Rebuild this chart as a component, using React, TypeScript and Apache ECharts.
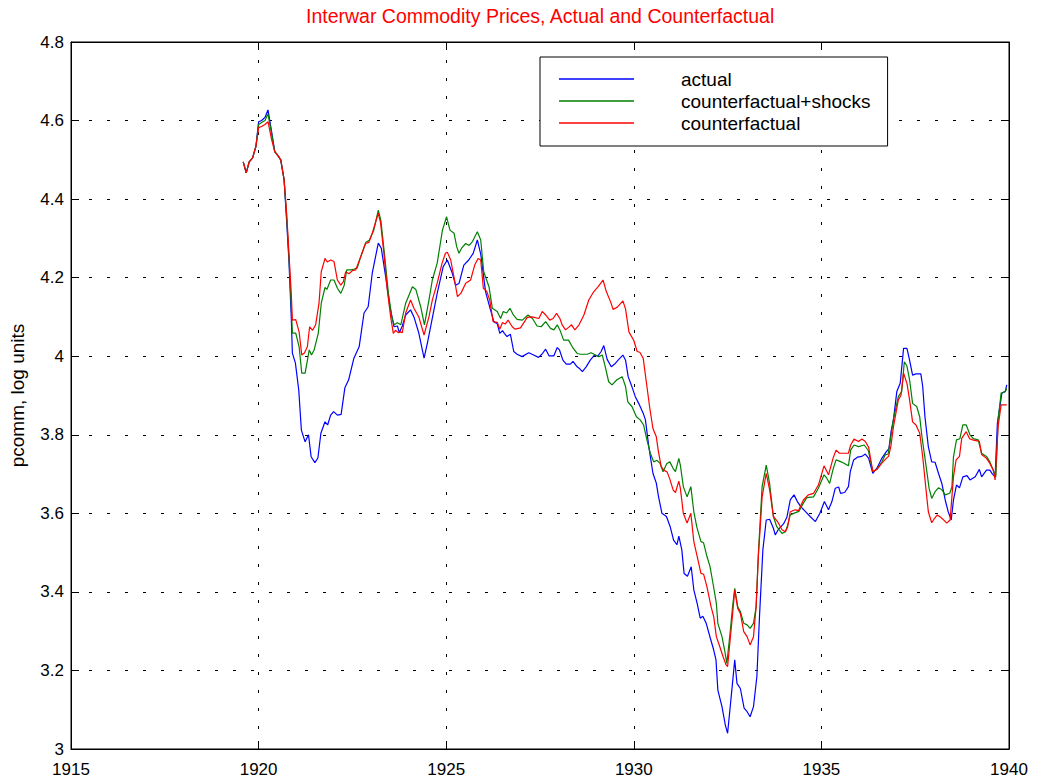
import React, { useEffect, useRef } from "react";
import * as echarts from "echarts";

const titleText = "Interwar Commodity Prices, Actual and Counterfactual";
const yAxisName = "pcomm, log units";
const seriesNames = ["actual", "counterfactual+shocks", "counterfactual"];
const seriesColors = ["#0000ff", "#008000", "#ff0000"];
const xTicks = [1915, 1920, 1925, 1930, 1935, 1940];
const yTicks = [3, 3.2, 3.4, 3.6, 3.8, 4, 4.2, 4.4, 4.6, 4.8];

const actualData: [number, number][] = [
  [1919.59, 4.495], [1919.67, 4.467], [1919.75, 4.495], [1919.84, 4.505], [1919.93, 4.535],
  [1920.0, 4.597], [1920.08, 4.6], [1920.17, 4.608], [1920.25, 4.627], [1920.35, 4.57],
  [1920.43, 4.521], [1920.52, 4.51], [1920.59, 4.5], [1920.68, 4.449], [1920.75, 4.34],
  [1920.81, 4.24], [1920.87, 4.1], [1920.9, 4.008], [1920.98, 3.983], [1921.07, 3.914],
  [1921.14, 3.812], [1921.24, 3.782], [1921.33, 3.8], [1921.4, 3.744], [1921.5, 3.729],
  [1921.58, 3.741], [1921.66, 3.804], [1921.77, 3.833], [1921.84, 3.825], [1921.92, 3.85],
  [1922.0, 3.859], [1922.1, 3.85], [1922.2, 3.852], [1922.3, 3.92], [1922.4, 3.94],
  [1922.54, 3.995], [1922.68, 4.024], [1922.81, 4.11], [1922.92, 4.126], [1923.03, 4.212],
  [1923.19, 4.288], [1923.27, 4.275], [1923.39, 4.2], [1923.5, 4.126], [1923.61, 4.075],
  [1923.7, 4.077], [1923.75, 4.06], [1923.83, 4.077], [1923.92, 4.105], [1924.05, 4.118],
  [1924.14, 4.1], [1924.27, 4.059], [1924.41, 3.995], [1924.5, 4.034], [1924.63, 4.097],
  [1924.76, 4.16], [1924.92, 4.228], [1925.03, 4.245], [1925.16, 4.212], [1925.25, 4.181],
  [1925.34, 4.185], [1925.47, 4.232], [1925.6, 4.245], [1925.72, 4.262], [1925.83, 4.296],
  [1925.92, 4.26], [1926.05, 4.164], [1926.18, 4.118], [1926.27, 4.088], [1926.36, 4.083],
  [1926.43, 4.058], [1926.5, 4.065], [1926.55, 4.058], [1926.62, 4.05], [1926.71, 4.056],
  [1926.8, 4.012], [1926.89, 4.005], [1927.02, 3.999], [1927.2, 4.009], [1927.33, 4.003],
  [1927.46, 3.997], [1927.55, 4.005], [1927.65, 4.018], [1927.74, 4.001], [1927.87, 4.001],
  [1927.96, 4.022], [1928.02, 4.016], [1928.11, 3.99], [1928.2, 3.98], [1928.31, 3.98],
  [1928.38, 3.987], [1928.49, 3.973], [1928.56, 3.968], [1928.63, 3.961], [1928.73, 3.973],
  [1928.84, 3.99], [1928.95, 4.003], [1929.04, 4.0], [1929.13, 4.012], [1929.2, 4.027],
  [1929.29, 3.992], [1929.4, 3.973], [1929.49, 3.98], [1929.6, 3.992], [1929.71, 4.003],
  [1929.78, 3.99], [1929.85, 3.948], [1929.94, 3.925], [1930.04, 3.897], [1930.13, 3.88],
  [1930.25, 3.855], [1930.31, 3.838], [1930.4, 3.77], [1930.51, 3.702], [1930.6, 3.677],
  [1930.66, 3.642], [1930.75, 3.6], [1930.87, 3.592], [1930.97, 3.566], [1931.06, 3.532],
  [1931.15, 3.52], [1931.2, 3.542], [1931.28, 3.507], [1931.34, 3.447], [1931.43, 3.44],
  [1931.53, 3.464], [1931.6, 3.405], [1931.69, 3.37], [1931.77, 3.333], [1931.84, 3.338],
  [1931.93, 3.32], [1932.04, 3.282], [1932.13, 3.252], [1932.19, 3.227], [1932.24, 3.15],
  [1932.35, 3.108], [1932.44, 3.061], [1932.5, 3.04], [1932.57, 3.108], [1932.63, 3.167],
  [1932.69, 3.227], [1932.75, 3.167], [1932.84, 3.154], [1932.94, 3.104], [1933.02, 3.095],
  [1933.1, 3.082], [1933.19, 3.108], [1933.28, 3.184], [1933.35, 3.337], [1933.44, 3.507],
  [1933.53, 3.583], [1933.62, 3.585], [1933.72, 3.562], [1933.77, 3.545], [1933.86, 3.56],
  [1933.99, 3.573], [1934.08, 3.59], [1934.17, 3.634], [1934.27, 3.647], [1934.36, 3.63],
  [1934.45, 3.617], [1934.57, 3.605], [1934.7, 3.592], [1934.84, 3.579], [1934.96, 3.6],
  [1935.08, 3.63], [1935.19, 3.609], [1935.28, 3.63], [1935.37, 3.664], [1935.46, 3.667],
  [1935.51, 3.651], [1935.62, 3.653], [1935.72, 3.668], [1935.77, 3.706], [1935.86, 3.736],
  [1935.96, 3.743], [1936.08, 3.745], [1936.17, 3.751], [1936.26, 3.74], [1936.37, 3.702],
  [1936.48, 3.715], [1936.61, 3.74], [1936.73, 3.757], [1936.8, 3.765], [1936.86, 3.81],
  [1936.92, 3.838], [1937.01, 3.91], [1937.1, 3.931], [1937.19, 4.02], [1937.28, 4.02],
  [1937.35, 3.99], [1937.43, 3.952], [1937.52, 3.955], [1937.65, 3.955], [1937.7, 3.923],
  [1937.76, 3.846], [1937.85, 3.77], [1937.94, 3.731], [1938.03, 3.73], [1938.12, 3.702],
  [1938.21, 3.676], [1938.3, 3.634], [1938.38, 3.604], [1938.46, 3.583], [1938.52, 3.634],
  [1938.6, 3.672], [1938.68, 3.665], [1938.77, 3.693], [1938.88, 3.696], [1938.96, 3.685],
  [1939.1, 3.693], [1939.21, 3.712], [1939.27, 3.693], [1939.4, 3.71], [1939.49, 3.71],
  [1939.56, 3.7], [1939.63, 3.693], [1939.69, 3.829], [1939.81, 3.906], [1939.9, 3.91],
  [1939.94, 3.927],
];

const shocksData: [number, number][] = [
  [1919.59, 4.495], [1919.67, 4.467], [1919.75, 4.495], [1919.84, 4.505], [1919.93, 4.535],
  [1920.0, 4.59], [1920.08, 4.595], [1920.17, 4.6], [1920.25, 4.617], [1920.35, 4.565],
  [1920.43, 4.521], [1920.52, 4.51], [1920.59, 4.5], [1920.68, 4.449], [1920.75, 4.35],
  [1920.81, 4.25], [1920.87, 4.13], [1920.9, 4.059], [1920.99, 4.059], [1921.08, 4.024],
  [1921.15, 3.957], [1921.24, 3.957], [1921.35, 4.016], [1921.41, 4.003], [1921.48, 4.016],
  [1921.59, 4.058], [1921.67, 4.135], [1921.77, 4.175], [1921.82, 4.17], [1921.92, 4.194],
  [1922.01, 4.194], [1922.1, 4.173], [1922.19, 4.16], [1922.28, 4.18], [1922.35, 4.22],
  [1922.46, 4.22], [1922.55, 4.222], [1922.63, 4.225], [1922.72, 4.253], [1922.86, 4.29],
  [1922.95, 4.295], [1923.07, 4.321], [1923.19, 4.372], [1923.26, 4.345], [1923.36, 4.255],
  [1923.46, 4.16], [1923.55, 4.1], [1923.61, 4.08], [1923.7, 4.085], [1923.79, 4.08],
  [1923.92, 4.135], [1924.1, 4.177], [1924.19, 4.17], [1924.32, 4.126], [1924.42, 4.08],
  [1924.54, 4.143], [1924.63, 4.194], [1924.76, 4.237], [1924.9, 4.321], [1925.01, 4.355],
  [1925.1, 4.321], [1925.21, 4.313], [1925.28, 4.279], [1925.34, 4.262], [1925.41, 4.275],
  [1925.52, 4.287], [1925.61, 4.282], [1925.7, 4.292], [1925.83, 4.317], [1925.92, 4.296],
  [1926.0, 4.215], [1926.14, 4.177], [1926.23, 4.122], [1926.36, 4.114], [1926.45, 4.096],
  [1926.52, 4.114], [1926.61, 4.11], [1926.7, 4.122], [1926.79, 4.105], [1926.89, 4.094],
  [1927.03, 4.092], [1927.18, 4.105], [1927.3, 4.096], [1927.42, 4.077], [1927.53, 4.075],
  [1927.65, 4.088], [1927.78, 4.071], [1927.87, 4.067], [1927.96, 4.08], [1928.03, 4.067],
  [1928.13, 4.041], [1928.26, 4.041], [1928.36, 4.024], [1928.49, 4.007], [1928.58, 4.005],
  [1928.76, 4.005], [1928.86, 4.009], [1928.98, 4.003], [1929.07, 3.999], [1929.16, 4.003],
  [1929.24, 3.973], [1929.33, 3.935], [1929.42, 3.927], [1929.55, 3.94], [1929.69, 3.948],
  [1929.78, 3.923], [1929.84, 3.884], [1929.95, 3.872], [1930.07, 3.846], [1930.17, 3.838],
  [1930.26, 3.825], [1930.35, 3.787], [1930.44, 3.753], [1930.53, 3.731], [1930.62, 3.735],
  [1930.7, 3.727], [1930.78, 3.706], [1930.88, 3.727], [1930.96, 3.731], [1931.05, 3.714],
  [1931.11, 3.706], [1931.2, 3.74], [1931.24, 3.723], [1931.32, 3.668], [1931.42, 3.642],
  [1931.52, 3.668], [1931.6, 3.604], [1931.68, 3.565], [1931.79, 3.528], [1931.86, 3.525],
  [1931.95, 3.49], [1932.03, 3.465], [1932.11, 3.422], [1932.2, 3.371], [1932.24, 3.32],
  [1932.35, 3.286], [1932.42, 3.252], [1932.48, 3.218], [1932.57, 3.299], [1932.63, 3.36],
  [1932.69, 3.409], [1932.77, 3.362], [1932.84, 3.35], [1932.93, 3.32], [1933.02, 3.316],
  [1933.1, 3.307], [1933.19, 3.32], [1933.26, 3.362], [1933.32, 3.498], [1933.42, 3.668],
  [1933.53, 3.723], [1933.62, 3.676], [1933.72, 3.592], [1933.81, 3.566], [1933.95, 3.549],
  [1934.04, 3.553], [1934.1, 3.57], [1934.17, 3.596], [1934.26, 3.6], [1934.4, 3.605],
  [1934.52, 3.626], [1934.61, 3.64], [1934.79, 3.642], [1934.92, 3.664], [1935.07, 3.698],
  [1935.14, 3.69], [1935.22, 3.676], [1935.31, 3.712], [1935.39, 3.736], [1935.48, 3.733],
  [1935.59, 3.728], [1935.72, 3.721], [1935.78, 3.761], [1935.87, 3.774], [1935.99, 3.77],
  [1936.14, 3.774], [1936.25, 3.76], [1936.37, 3.706], [1936.48, 3.712], [1936.61, 3.73],
  [1936.7, 3.749], [1936.78, 3.751], [1936.85, 3.795], [1936.92, 3.84], [1937.05, 3.897],
  [1937.14, 3.91], [1937.21, 3.986], [1937.28, 3.975], [1937.35, 3.94], [1937.43, 3.88],
  [1937.54, 3.872], [1937.62, 3.846], [1937.68, 3.795], [1937.78, 3.727], [1937.87, 3.664],
  [1937.94, 3.638], [1938.03, 3.655], [1938.12, 3.665], [1938.21, 3.66], [1938.3, 3.647],
  [1938.42, 3.651], [1938.48, 3.668], [1938.52, 3.744], [1938.6, 3.787], [1938.69, 3.79],
  [1938.77, 3.825], [1938.86, 3.825], [1938.96, 3.8], [1939.05, 3.79], [1939.18, 3.787],
  [1939.27, 3.753], [1939.4, 3.745], [1939.49, 3.731], [1939.58, 3.71], [1939.65, 3.693],
  [1939.71, 3.838], [1939.79, 3.906], [1939.9, 3.91], [1939.94, 3.918],
];

const cfData: [number, number][] = [
  [1919.59, 4.495], [1919.67, 4.467], [1919.75, 4.495], [1919.84, 4.505], [1919.93, 4.535],
  [1920.0, 4.582], [1920.08, 4.585], [1920.17, 4.59], [1920.25, 4.597], [1920.35, 4.55],
  [1920.43, 4.521], [1920.52, 4.51], [1920.59, 4.5], [1920.68, 4.449], [1920.75, 4.36],
  [1920.81, 4.26], [1920.87, 4.16], [1920.9, 4.092], [1920.99, 4.093], [1921.08, 4.062],
  [1921.15, 4.003], [1921.22, 4.008], [1921.3, 4.024], [1921.36, 4.075], [1921.44, 4.066],
  [1921.52, 4.08], [1921.61, 4.135], [1921.67, 4.215], [1921.77, 4.249], [1921.83, 4.24],
  [1921.92, 4.245], [1922.01, 4.241], [1922.1, 4.194], [1922.19, 4.181], [1922.26, 4.19],
  [1922.32, 4.215], [1922.41, 4.21], [1922.5, 4.218], [1922.59, 4.22], [1922.72, 4.253],
  [1922.85, 4.287], [1922.94, 4.29], [1923.03, 4.313], [1923.19, 4.364], [1923.25, 4.34],
  [1923.34, 4.262], [1923.43, 4.169], [1923.52, 4.1], [1923.59, 4.058], [1923.65, 4.066],
  [1923.72, 4.06], [1923.78, 4.062], [1923.83, 4.06], [1923.92, 4.11], [1924.05, 4.143],
  [1924.14, 4.122], [1924.27, 4.1], [1924.41, 4.054], [1924.54, 4.1], [1924.63, 4.143],
  [1924.76, 4.186], [1924.89, 4.237], [1924.98, 4.262], [1925.03, 4.265], [1925.12, 4.245],
  [1925.21, 4.2], [1925.3, 4.152], [1925.39, 4.16], [1925.52, 4.186], [1925.65, 4.194],
  [1925.76, 4.232], [1925.85, 4.249], [1925.92, 4.245], [1925.99, 4.173], [1926.08, 4.165],
  [1926.16, 4.143], [1926.25, 4.088], [1926.36, 4.086], [1926.43, 4.069], [1926.5, 4.086],
  [1926.57, 4.082], [1926.65, 4.092], [1926.76, 4.075], [1926.83, 4.069], [1926.98, 4.072],
  [1927.16, 4.099], [1927.29, 4.1], [1927.47, 4.096], [1927.56, 4.114], [1927.65, 4.105],
  [1927.76, 4.092], [1927.85, 4.096], [1927.94, 4.109], [1928.03, 4.096], [1928.09, 4.08],
  [1928.18, 4.067], [1928.27, 4.074], [1928.34, 4.08], [1928.43, 4.067], [1928.54, 4.08],
  [1928.67, 4.105], [1928.8, 4.143], [1928.93, 4.164], [1929.05, 4.177], [1929.18, 4.194],
  [1929.27, 4.164], [1929.38, 4.139], [1929.45, 4.119], [1929.56, 4.125], [1929.71, 4.141],
  [1929.78, 4.12], [1929.87, 4.062], [1930.0, 4.04], [1930.09, 4.012], [1930.16, 4.01],
  [1930.25, 3.995], [1930.35, 3.923], [1930.42, 3.872], [1930.51, 3.816], [1930.6, 3.795],
  [1930.65, 3.761], [1930.73, 3.719], [1930.8, 3.71], [1930.89, 3.705], [1930.96, 3.687],
  [1931.05, 3.659], [1931.11, 3.653], [1931.2, 3.682], [1931.24, 3.664], [1931.32, 3.6],
  [1931.42, 3.575], [1931.52, 3.6], [1931.6, 3.528], [1931.69, 3.49], [1931.79, 3.447],
  [1931.86, 3.445], [1931.95, 3.413], [1932.06, 3.362], [1932.13, 3.337], [1932.2, 3.286],
  [1932.29, 3.261], [1932.38, 3.235], [1932.46, 3.214], [1932.5, 3.21], [1932.57, 3.28],
  [1932.63, 3.34], [1932.69, 3.405], [1932.77, 3.358], [1932.84, 3.345], [1932.93, 3.299],
  [1933.02, 3.286], [1933.1, 3.265], [1933.19, 3.286], [1933.26, 3.362], [1933.32, 3.49],
  [1933.42, 3.642], [1933.53, 3.702], [1933.62, 3.66], [1933.72, 3.592], [1933.83, 3.579],
  [1933.95, 3.558], [1934.04, 3.553], [1934.1, 3.565], [1934.17, 3.604], [1934.3, 3.609],
  [1934.39, 3.607], [1934.52, 3.634], [1934.65, 3.647], [1934.79, 3.651], [1934.92, 3.672],
  [1935.07, 3.721], [1935.19, 3.698], [1935.31, 3.74], [1935.39, 3.761], [1935.48, 3.753],
  [1935.61, 3.753], [1935.72, 3.753], [1935.78, 3.774], [1935.87, 3.789], [1935.99, 3.783],
  [1936.08, 3.789], [1936.17, 3.783], [1936.26, 3.768], [1936.37, 3.706], [1936.48, 3.712],
  [1936.61, 3.728], [1936.73, 3.74], [1936.79, 3.745], [1936.85, 3.77], [1936.92, 3.82],
  [1937.05, 3.889], [1937.12, 3.9], [1937.19, 3.957], [1937.28, 3.931], [1937.35, 3.889],
  [1937.43, 3.833], [1937.52, 3.825], [1937.62, 3.804], [1937.7, 3.744], [1937.78, 3.668],
  [1937.85, 3.604], [1937.94, 3.576], [1938.02, 3.588], [1938.09, 3.596], [1938.18, 3.59],
  [1938.27, 3.582], [1938.34, 3.575], [1938.43, 3.583], [1938.52, 3.693], [1938.59, 3.736],
  [1938.68, 3.745], [1938.74, 3.791], [1938.86, 3.808], [1938.95, 3.79], [1939.03, 3.787],
  [1939.21, 3.783], [1939.27, 3.75], [1939.4, 3.74], [1939.49, 3.727], [1939.58, 3.71],
  [1939.63, 3.685], [1939.71, 3.821], [1939.79, 3.876], [1939.9, 3.876], [1939.94, 3.876],
];

const FONT = "Liberation Sans";

export default function App() {
  const ref = useRef<HTMLDivElement>(null);

  useEffect(() => {
    if (!ref.current) return;
    const chart = echarts.init(ref.current, undefined, { renderer: "svg" });
    const dataSets = [actualData, shocksData, cfData];
    const gridLine = { show: true, lineStyle: { color: "#000", width: 1, type: [3, 15] as any } };
    const tickIn = { show: true, inside: true, length: 8, lineStyle: { color: "#000", width: 1 } };
    const xMin = xTicks[0];
    const xMax = xTicks[xTicks.length - 1];
    const yMin = yTicks[0];
    const yMax = yTicks[yTicks.length - 1];
    chart.setOption({
      animation: false,
      backgroundColor: "#fff",
      title: {
        text: titleText,
        left: 301,
        top: 1,
        textStyle: { color: "#ff0000", fontFamily: FONT, fontSize: 19.5, fontWeight: "normal" },
      },
      legend: {
        orient: "vertical",
        left: 540,
        top: 57,
        padding: [11, 17, 12, 19],
        icon: "rect",
        itemWidth: 75,
        itemHeight: 1.5,
        itemGap: 0,
        borderColor: "#000",
        borderWidth: 1,
        backgroundColor: "#fff",
        data: seriesNames,
        textStyle: {
          color: "#000",
          fontFamily: FONT,
          fontSize: 19,
          lineHeight: 22,
          padding: [0, 0, 0, 42],
        },
      },
      grid: { left: 70, right: 30, top: 42, bottom: 33, show: true, borderColor: "#000", borderWidth: 1 },
      xAxis: [
        {
          type: "value",
          min: xMin,
          max: xMax,
          interval: 5,
          axisLine: { show: true, lineStyle: { color: "#000", width: 1 } },
          axisTick: tickIn,
          splitLine: gridLine,
          axisLabel: {
            color: "#000",
            fontFamily: FONT,
            fontSize: 17,
            margin: 12,
            formatter: (v: number) => String(v),
          },
        },
        {
          type: "value",
          position: "top",
          min: xMin,
          max: xMax,
          interval: 5,
          axisLine: { show: true, lineStyle: { color: "#000", width: 1 } },
          axisTick: tickIn,
          splitLine: { show: false },
          axisLabel: { show: false },
        },
      ],
      yAxis: [
        {
          type: "value",
          min: yMin,
          max: yMax,
          interval: 0.2,
          name: yAxisName,
          nameLocation: "middle",
          nameGap: 44,
          nameTextStyle: { color: "#000", fontFamily: FONT, fontSize: 19 },
          axisLine: { show: true, lineStyle: { color: "#000", width: 1 } },
          axisTick: tickIn,
          splitLine: gridLine,
          axisLabel: { color: "#000", fontFamily: FONT, fontSize: 17, margin: 7 },
        },
        {
          type: "value",
          position: "right",
          min: yMin,
          max: yMax,
          interval: 0.2,
          axisLine: { show: true, lineStyle: { color: "#000", width: 1 } },
          axisTick: tickIn,
          splitLine: { show: false },
          axisLabel: { show: false },
        },
      ],
      series: seriesNames.map((name, i) => ({
        name,
        type: "line",
        xAxisIndex: 0,
        yAxisIndex: 0,
        data: dataSets[i],
        symbol: "none",
        showSymbol: false,
        lineStyle: { color: seriesColors[i], width: 1.2 },
        itemStyle: { color: seriesColors[i] },
        z: 3 + i,
      })),
    });
    return () => chart.dispose();
  }, []);

  return (
    <div
      ref={ref}
      style={{ position: "fixed", left: 0, top: 0, width: 1039, height: 782, background: "#fff" }}
    />
  );
}
